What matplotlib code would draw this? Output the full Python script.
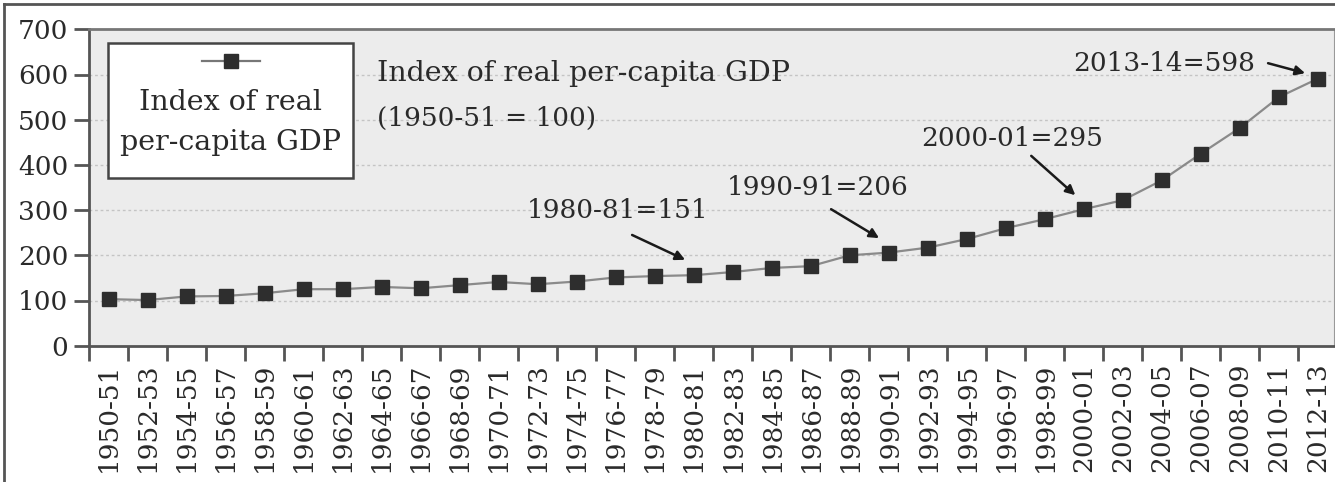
import matplotlib
matplotlib.use('Agg')
import matplotlib.pyplot as plt
from matplotlib.patches import Rectangle
from matplotlib.lines import Line2D

years = ['1950-51', '1952-53', '1954-55', '1956-57', '1958-59', '1960-61', '1962-63',
         '1964-65', '1966-67', '1968-69', '1970-71', '1972-73', '1974-75', '1976-77',
         '1978-79', '1980-81', '1982-83', '1984-85', '1986-87', '1988-89', '1990-91',
         '1992-93', '1994-95', '1996-97', '1998-99', '2000-01', '2002-03', '2004-05',
         '2006-07', '2008-09', '2010-11', '2012-13']
gdp_index = [103, 101, 109, 110, 116, 125, 125, 130, 127, 134, 141, 136, 142, 151,
             154, 156, 163, 172, 176, 200, 206, 217, 236, 260, 280, 302, 322, 366,
             425, 482, 550, 591]
yticks = [0, 100, 200, 300, 400, 500, 600, 700]

plt.rcParams['font.family'] = ['DejaVu Serif']
txt_color = '#2a2a2a'
fs = 19

fig = plt.figure(figsize=(13.35, 4.82), dpi=100)
ax = fig.add_axes([89/1335, 1 - 345.7/482, 1245/1335, 316.4/482])
ax.set_facecolor('#ececec')

x_list = range(len(years))
ax.plot(x_list, gdp_index, color='#8a8a8a', lw=1.6, marker='s', ms=10,
        mfc='#2e2e2e', mec='#2e2e2e', zorder=3)

ax.set_xlim(-0.5, 31.41)
ax.set_ylim(0, 700)
ax.set_yticks(yticks)
ax.set_yticklabels([str(v) for v in yticks], fontsize=fs, color=txt_color)
ax.set_xticks([i - 0.5 for i in x_list])
ax.set_xticklabels([])
ax.set_xticks(list(x_list), minor=True)
ax.set_xticklabels(years, minor=True, rotation=90, fontsize=19, color=txt_color)
ax.tick_params(axis='x', which='minor', length=0, pad=12)
ax.tick_params(axis='x', which='major', length=11, width=2, color='#555555')
ax.tick_params(axis='y', length=11, width=2, color='#555555', pad=4)
for y in yticks[1:-1]:
    ax.axhline(y, color='#c4c4c4', lw=1, ls=(0, (2, 2)), zorder=1)
for s in ['left', 'bottom']:
    ax.spines[s].set_color('#555555')
    ax.spines[s].set_linewidth(2)
ax.spines['top'].set_color('#777777')
ax.spines['top'].set_linewidth(2)
ax.spines['right'].set_color('#999999')

# legend box drawn by hand (marker above text)
ax.add_patch(Rectangle((0.0153, 0.530), 0.197, 0.427, transform=ax.transAxes,
                       facecolor='white', edgecolor='#444444', lw=1.8, zorder=4))
ax.add_line(Line2D([0.0908, 0.1373], [0.900, 0.900], transform=ax.transAxes,
                   color='#777777', lw=1.6, zorder=5))
ax.add_line(Line2D([0.114], [0.900], transform=ax.transAxes, marker='s', ms=10,
                   mfc='#2e2e2e', mec='#2e2e2e', zorder=6))
ax.text(0.114, 0.770, 'Index of real', transform=ax.transAxes, ha='center',
        va='center', fontsize=20.5, color=txt_color, zorder=6)
ax.text(0.114, 0.641, 'per-capita GDP', transform=ax.transAxes, ha='center',
        va='center', fontsize=20.5, color=txt_color, zorder=6)

ax.text(6.88, 603, 'Index of real per-capita GDP', ha='left', va='center',
        fontsize=20.5, color=txt_color)
ax.text(6.88, 503, '(1950-51 = 100)', ha='left', va='center', fontsize=fs, color=txt_color)

notes = [('1980-81=151', 10.73, 300, 13.42, 245, 14.78, 190),
         ('1990-91=206', 15.85, 351, 18.52, 302, 19.75, 238),
         ('2000-01=295', 20.83, 459, 23.65, 420, 24.78, 333),
         ('2013-14=598', 24.72, 625, 29.72, 625, 30.67, 603)]
for label, tx, ty, ax0, ay0, ax1, ay1 in notes:
    ax.text(tx, ty, label, ha='left', va='center', fontsize=fs, color=txt_color)
    ax.annotate('', xy=(ax1, ay1), xytext=(ax0, ay0),
                arrowprops=dict(arrowstyle='-|>', color='#1a1a1a', lw=1.8,
                                mutation_scale=14, shrinkA=0, shrinkB=0))

# outer frame (left and top)
fig.add_artist(Line2D([4/1335, 4/1335], [0, 1 - 4/482], color='#555555', lw=2))
fig.add_artist(Line2D([4/1335, 1], [1 - 4/482, 1 - 4/482], color='#555555', lw=2))

fig.savefig('out.png', dpi=100)
